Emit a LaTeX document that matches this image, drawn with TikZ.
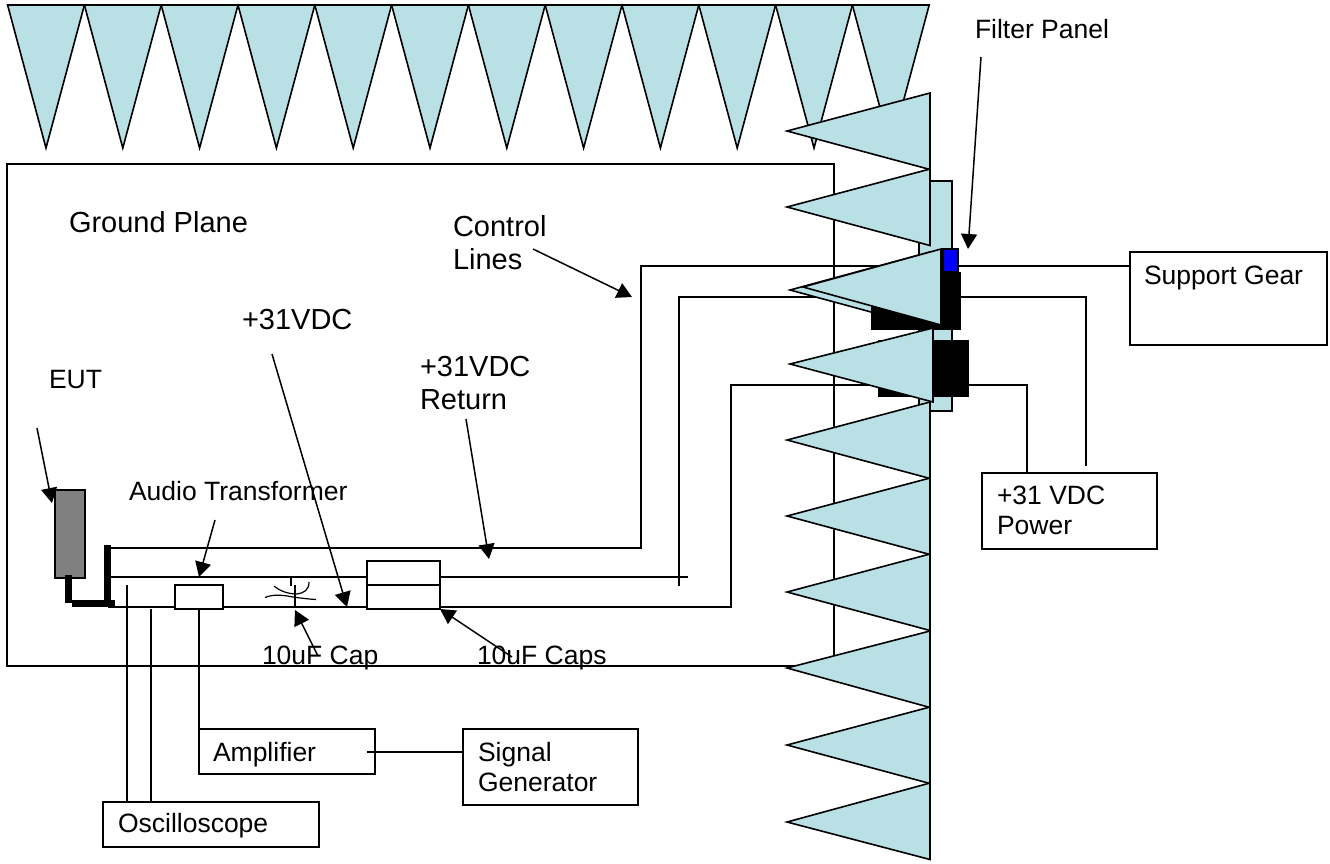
\documentclass[tikz,border=0pt]{standalone}
\usepackage{fontspec}
\setmainfont{Liberation Sans}
\usetikzlibrary{arrows.meta}
\newcommand{\fs}[1]{\fontsize{#1pt}{30pt}\selectfont}
\newcommand{\boxtext}[4]{\parbox[b][#2pt][t]{#1pt}{\vspace*{#3pt}\raggedright #4}}
\definecolor{absorber}{RGB}{185,224,228}
\definecolor{eutgray}{RGB}{128,128,128}
\tikzset{
  x=1pt,y=-1pt,
  every node/.style={outer sep=0pt},
  wire/.style={draw=black,line width=1.6pt},
  cone/.style={draw=black,fill=absorber,line width=1.6pt,line join=miter},
  thick wire/.style={draw=black,line width=7pt},
  blk/.style={fill=black,draw=black,line width=0.5pt},
  pointer/.style={draw=black,line width=1.5pt,-{Triangle[length=15pt,width=16pt]},shorten >=0pt},
  lbl/.style={anchor=base west,inner sep=0pt,font=\fs{26.5}},
  biglbl/.style={anchor=base west,inner sep=0pt,font=\fs{29}},
  boxn/.style={draw=black,fill=white,line width=1.6pt,anchor=north west,inner sep=0pt,font=\fs{26.5}},
  plain/.style={draw=black,fill=white,line width=1.6pt,anchor=north west,inner sep=0pt},
}
\begin{document}
\begin{tikzpicture}
\useasboundingbox (0,0) rectangle (1330,863);
% ground plane
\node[plain,minimum width=827pt,minimum height=502pt] (plane) at (7,164) {};
% top absorbers
\foreach \i in {0,...,11}{
  \filldraw[cone] ({7.6+76.8*\i},5) -- ({7.6+76.8*(\i+1)},5) -- ({7.6+76.8*\i+38.4},148) -- cycle;
}
% junction coordinates
\coordinate (top1) at (108,548);
\coordinate (top2) at (641,548);
\coordinate (top3) at (641,266);
\coordinate (mid1) at (108,577);
\coordinate (mid4) at (688,577);
\coordinate (ctl1) at (679,586);
\coordinate (ctl2) at (679,297);
\coordinate (pwr1) at (1086,297);
\coordinate (pwr2) at (1086,466);
\coordinate (low1) at (108,607);
\coordinate (low3) at (731,607);
\coordinate (low4) at (731,385);
\coordinate (low5) at (1027,385);
\coordinate (sc1) at (127,585);
\coordinate (sc2) at (151,609);
\coordinate (ampin) at (367,752);
% boxes
\node[boxn,minimum width=197pt,minimum height=93pt] (gear) at (1130,252) {\boxtext{197}{93}{14}{\hspace*{14pt}Support Gear}};
\node[boxn,minimum width=175pt,minimum height=76pt] (power) at (982,473) {\boxtext{175}{76}{13}{\hspace*{15pt}+31 VDC\\\hspace*{15pt}Power}};
\node[boxn,minimum width=176pt,minimum height=45pt] (amp) at (199,729) {\boxtext{176}{45}{13}{\hspace*{14pt}Amplifier}};
\node[boxn,minimum width=175pt,minimum height=76pt] (sig) at (463,729) {\boxtext{175}{76}{13}{\hspace*{15pt}Signal\\\hspace*{15pt}Generator}};
\node[boxn,minimum width=216pt,minimum height=45pt] (scope) at (103,802) {\boxtext{216}{45}{11.5}{\hspace*{15pt}Oscilloscope}};
% wires
\draw[wire] (top1) -- (top2) -- (top3) -- (gear.west |- top3);
\draw[wire] (mid1) -- (mid4);
\draw[wire] (ctl1) -- (ctl2) -- (pwr1) -- (pwr2);
\draw[wire] (low1) -- (low3) -- (low4) -- (low5) -- (low5 |- power.north);
\draw[wire] (sc1) -- (sc1 |- scope.north);
\draw[wire] (sc2) -- (sc2 |- scope.north);
% small parts
\node[plain,minimum width=48pt,minimum height=24pt] (xfmr) at (175,585) {};
\node[plain,minimum width=73pt,minimum height=24pt] (capa) at (367,561) {};
\node[plain,minimum width=73pt,minimum height=24pt] (capb) at (367,585) {};
\draw[wire] (xfmr.south) -- (xfmr.south |- amp.north);
\draw[wire] (ampin) -- (sig.west |- ampin);
% electrolytic cap scribble
\draw[wire,line width=1.2pt] (291,577) -- (291,586);
\draw[wire,line width=1.2pt] (295,585) -- (295,607);
\draw[wire,line width=1.2pt] (265,597.5) .. controls (273,594) and (283,595) .. (293,597) .. controls (300,598) and (308,599) .. (316,599.5);
\draw[wire,line width=1.2pt] (274,586) .. controls (280,591) and (288,594) .. (297,594) .. controls (304,593) and (309,590) .. (309,582);
% EUT
\node[plain,fill=eutgray,minimum width=30pt,minimum height=88pt] (eut) at (55,490) {};
\coordinate (tk1) at (68.5,575);
\coordinate (tk2) at (68.5,603);
\coordinate (tk3) at (72,603);
\coordinate (tk4) at (115,603);
\coordinate (tk5) at (107.5,545);
\coordinate (tk6) at (107.5,603);
\draw[thick wire] (tk1) -- (tk2);
\draw[thick wire] (tk3) -- (tk4);
\draw[thick wire] (tk5) -- (tk6);
% filter panel and connectors
\node[draw=black,fill=absorber,line width=1.6pt,anchor=north west,inner sep=0pt,minimum width=33pt,minimum height=230pt] (panel) at (919,181) {};
\filldraw[cone] (930,252) -- (930,328) -- (790,290) -- cycle;
\node[blk,anchor=north west,inner sep=0pt,minimum width=89pt,minimum height=57pt] (conn1) at (871,272) {};
\node[blk,anchor=north west,inner sep=0pt,minimum width=90pt,minimum height=56pt] (conn2) at (878,340) {};
\node[draw=black,fill=blue,line width=1.6pt,anchor=north west,inner sep=0pt,minimum width=15pt,minimum height=23pt] (blue) at (943,249) {};
% side absorbers
\foreach \t/\a in {93/131,169/207,402/440,478/516,554/592,631/668,707/745,783/822}{
  \pgfmathsetmacro{\b}{\t+76.5}
  \filldraw[cone] (930,\t) -- (930,\b) -- (787,\a) -- cycle;
}
\filldraw[cone] (941,249) -- (941,325) -- (803,287) -- cycle;
\filldraw[cone] (933,328) -- (933,402) -- (790,364) -- cycle;
% labels
\node[biglbl] (gp) at (69,232) {Ground Plane};
\node[lbl] (fp) at (975,38) {Filter Panel};
\node[biglbl] (cl1) at (453,236) {Control};
\node[biglbl] (cl2) at (453,269) {Lines};
\node[biglbl] (v31) at (242,329) {+31VDC};
\node[biglbl] (ret1) at (420,376) {+31VDC};
\node[biglbl] (ret2) at (420,409) {Return};
\node[lbl] (eutl) at (49,388) {EUT};
\node[lbl] (atl) at (129,500) {Audio Transformer};
\node[lbl] (cap1) at (262,664) {10uF Cap};
\node[lbl] (cap2) at (477,664) {10uF Caps};
% pointers
\coordinate (pf) at (981,57);
\coordinate (pc) at (533,249);
\coordinate (pv) at (272,354);
\coordinate (pr) at (466,419);
\coordinate (pe) at (37,428);
\coordinate (pa) at (215,520);
\coordinate (p1) at (318,656);
\coordinate (p2) at (512,657);
\coordinate (hf) at (968,249);
\coordinate (hc) at (632,297);
\coordinate (hv) at (347,607);
\coordinate (hr) at (489,559);
\coordinate (he) at (52,503);
\coordinate (ha) at (199,577);
\coordinate (h1) at (295,610);
\coordinate (h2) at (440,609);
\draw[pointer] (pf) -- (hf);
\draw[pointer] (pc) -- (hc);
\draw[pointer] (pv) -- (hv);
\draw[pointer] (pr) -- (hr);
\draw[pointer] (pe) -- (he);
\draw[pointer] (pa) -- (ha);
\draw[pointer] (p1) -- (h1);
\draw[pointer] (p2) -- (h2);
\end{tikzpicture}
\end{document}
